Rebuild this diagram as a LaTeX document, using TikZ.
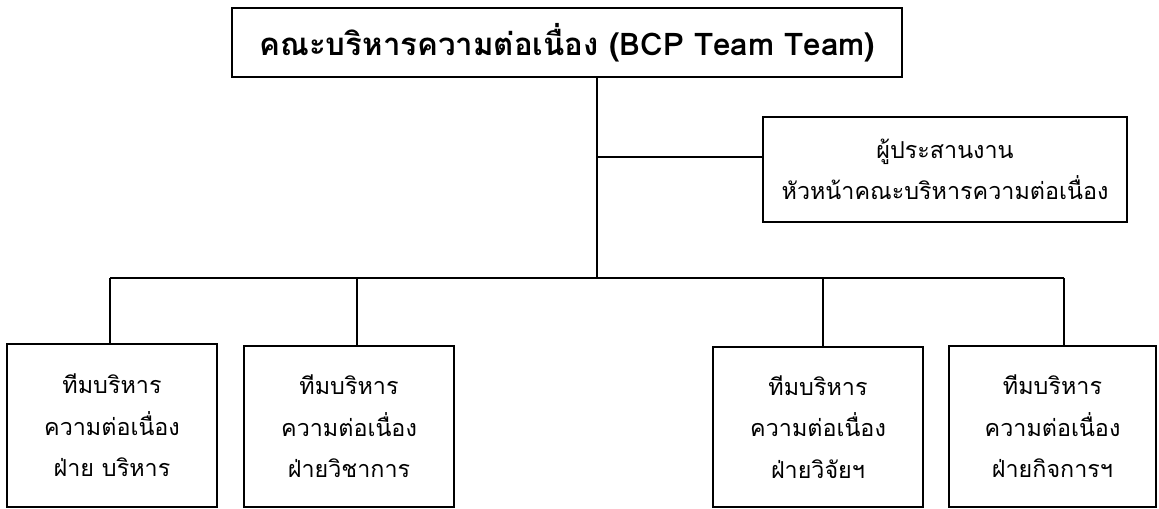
\documentclass[tikz,border=0pt]{standalone}
\usepackage{fontspec}
\newfontfamily\thaifont[Script=Thai]{Loma}
\begin{document}
\begin{tikzpicture}[x=0.75pt,y=-0.75pt,
  box/.style={draw=black, line width=1.3pt, rectangle, inner sep=0pt, align=center},
  normtext/.style={font=\thaifont\fontsize{17.5}{31}\selectfont},
  titletext/.style={font=\thaifont\bfseries\fontsize{23.4}{28}\selectfont},
  conn/.style={draw=black, line width=1.3pt}]
\useasboundingbox (0,0) rectangle (1159,509);
\node[box, titletext, minimum width=670*0.75pt, minimum height=69*0.75pt] (top) at (567,42.5) {คณะบริหารความต่อเนื่อง (BCP Team Team)};
\node[box, normtext, minimum width=364*0.75pt, minimum height=105*0.75pt] (coord) at (945,169.5) {ผู้ประสานงาน\\หัวหน้าคณะบริหารความต่อเนื่อง};
\node[box, normtext, minimum width=210*0.75pt, minimum height=163*0.75pt] (b1) at (112,425.5) {ทีมบริหาร\\ความต่อเนื่อง\\ฝ่าย บริหาร};
\node[box, normtext, minimum width=210*0.75pt, minimum height=161*0.75pt] (b2) at (349,426.5) {ทีมบริหาร\\ความต่อเนื่อง\\ฝ่ายวิชาการ};
\node[box, normtext, minimum width=210*0.75pt, minimum height=160*0.75pt] (b3) at (818,427) {ทีมบริหาร\\ความต่อเนื่อง\\ฝ่ายวิจัยฯ};
\node[box, normtext, minimum width=207*0.75pt, minimum height=161*0.75pt] (b4) at (1052.5,426.5) {ทีมบริหาร\\ความต่อเนื่อง\\ฝ่ายกิจการฯ};
\coordinate (jt) at (597,77);
\coordinate (jc) at (597,157);
\coordinate (jm) at (597,278);
\coordinate (j1) at (110,278);
\coordinate (j2) at (357,278);
\coordinate (j3) at (823,278);
\coordinate (j4) at (1064,278);
\draw[conn] (jt) -- (jm);
\draw[conn] (jc) -- (jc -| coord.west);
\draw[conn] (j1) -- (j4);
\draw[conn] (j1) -- (j1 |- b1.north);
\draw[conn] (j2) -- (j2 |- b2.north);
\draw[conn] (j3) -- (j3 |- b3.north);
\draw[conn] (j4) -- (j4 |- b4.north);
\end{tikzpicture}
\end{document}
